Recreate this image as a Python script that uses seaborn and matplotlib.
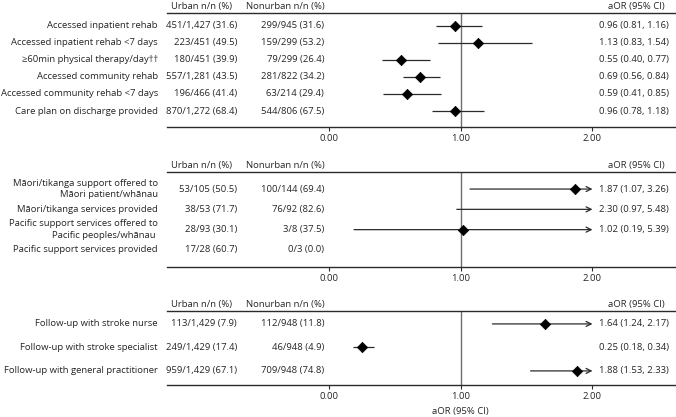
import matplotlib
matplotlib.use('Agg')
import matplotlib.pyplot as plt
import matplotlib.transforms as mtransforms
import seaborn as sns
import numpy as np
import pandas as pd

sns.set_theme(style='white')
plt.rcParams['font.family'] = ['Open Sans', 'DejaVu Sans']

FS = 6.8

# rehabilitation panel
rehab_labels = ['Accessed inpatient rehab', 'Accessed inpatient rehab <7 days',
                '≥60min physical therapy/day††', 'Accessed community rehab',
                'Accessed community rehab <7 days', 'Care plan on discharge provided']
rehab_urban = ['451/1,427 (31.6)', '223/451 (49.5)', '180/451 (39.9)',
               '557/1,281 (43.5)', '196/466 (41.4)', '870/1,272 (68.4)']
rehab_nonurban = ['299/945 (31.6)', '159/299 (53.2)', '79/299 (26.4)',
                  '281/822 (34.2)', '63/214 (29.4)', '544/806 (67.5)']
rehab_aor = [0.96, 1.13, 0.55, 0.69, 0.59, 0.96]
rehab_lo = [0.81, 0.83, 0.40, 0.56, 0.41, 0.78]
rehab_hi = [1.16, 1.54, 0.77, 0.84, 0.85, 1.18]

# cultural support panel
cult_labels = ['Māori/tikanga support offered to\nMāori patient/whānau',
               'Māori/tikanga services provided',
               'Pacific support services offered to\nPacific peoples/whānau ',
               'Pacific support services provided']
cult_urban = ['53/105 (50.5)', '38/53 (71.7)', '28/93 (30.1)', '17/28 (60.7)']
cult_nonurban = ['100/144 (69.4)', '76/92 (82.6)', '3/8 (37.5)', '0/3 (0.0)']
cult_aor = [1.87, 2.30, 1.02, np.nan]
cult_lo = [1.07, 0.97, 0.19, np.nan]
cult_hi = [3.26, 5.48, 5.39, np.nan]

# follow-up panel
fu_labels = ['Follow-up with stroke nurse', 'Follow-up with stroke specialist',
             'Follow-up with general practitioner']
fu_urban = ['113/1,429 (7.9)', '249/1,429 (17.4)', '959/1,429 (67.1)']
fu_nonurban = ['112/948 (11.8)', '46/948 (4.9)', '709/948 (74.8)']
fu_aor = [1.64, 0.25, 1.88]
fu_lo = [1.24, 0.18, 1.53]
fu_hi = [2.17, 0.34, 2.33]

XMIN, XMAX, CLIP = -1.23, 2.634, 2.0
LINE = '#2b2b2b'


def draw_panel(ax, labels, urban, nonurban, aor, lo, hi, pad_top, pad_bot):
    n = len(labels)
    df = pd.DataFrame({'row': np.arange(n), 'aor': aor, 'lo': lo, 'hi': hi})
    ax.set_xlim(XMIN, XMAX)
    ax.set_ylim(n - 1 + pad_bot, -pad_top)
    ax.axvline(1, color='#707070', lw=1, zorder=1)

    for _, r in df.iterrows():
        if np.isnan(r['lo']):
            continue
        if r['hi'] > CLIP:
            ax.annotate('', xy=(CLIP, r['row']), xytext=(r['lo'], r['row']),
                        arrowprops=dict(arrowstyle='->', lw=0.9, color=LINE,
                                        shrinkA=0, shrinkB=0, mutation_scale=9))
        else:
            ax.hlines(r['row'], r['lo'], r['hi'], color=LINE, lw=0.9, zorder=2)

    shown = df[df['aor'] <= CLIP]
    sns.scatterplot(data=shown, x='aor', y='row', marker='D', s=28, color='black',
                    edgecolor='black', linewidth=0.5, ax=ax, zorder=3, legend=False)

    for i in range(n):
        ax.text(-1.30, i, labels[i], ha='right', va='center', fontsize=FS,
                linespacing=1.35, clip_on=False)
        ax.text(-0.698, i, urban[i], ha='right', va='center', fontsize=FS)
        ax.text(-0.038, i, nonurban[i], ha='right', va='center', fontsize=FS)
        if not np.isnan(aor[i]):
            ax.text(2.58, i, f'{aor[i]:.2f} ({lo[i]:.2f}, {hi[i]:.2f})',
                    ha='right', va='center', fontsize=FS)

    trans = mtransforms.blended_transform_factory(ax.transData, ax.transAxes)
    for x, txt in [(-0.736, 'Urban n/n (%)'), (-0.03, 'Nonurban n/n (%)'),
                   (2.55, 'aOR (95% CI)')]:
        ax.annotate(txt, xy=(x, 1), xycoords=trans, xytext=(0, 1.5),
                    textcoords='offset points', ha='right', va='bottom', fontsize=FS)

    for side in ['left', 'right']:
        ax.spines[side].set_visible(False)
    for side in ['top', 'bottom']:
        ax.spines[side].set_color(LINE)
        ax.spines[side].set_linewidth(1)
    ax.set_xticks([0, 1, 2])
    ax.set_xticklabels(['0.00', '1.00', '2.00'])
    ax.set_yticks([])
    ax.tick_params(axis='x', bottom=True, direction='out', length=3, width=0.8,
                   color=LINE, pad=2, labelsize=FS)
    ax.set_xlabel('')
    ax.set_ylabel('')


W, H = 676, 417
fig = plt.figure(figsize=(W / 100, H / 100), dpi=100)


def px_axes(top, bottom):
    return fig.add_axes([167 / W, 1 - bottom / H, (W - 167) / W, (bottom - top) / H])


ax1 = px_axes(13, 127)
draw_panel(ax1, rehab_labels, rehab_urban, rehab_nonurban, rehab_aor, rehab_lo, rehab_hi, 0.76, 0.94)
ax2 = px_axes(172, 267)
draw_panel(ax2, cult_labels, cult_urban, cult_nonurban, cult_aor, cult_lo, cult_hi, 0.84, 0.84)
ax3 = px_axes(311, 385)
draw_panel(ax3, fu_labels, fu_urban, fu_nonurban, fu_aor, fu_lo, fu_hi, 0.55, 0.6)

trans3 = mtransforms.blended_transform_factory(ax3.transData, ax3.transAxes)
ax3.annotate('aOR (95% CI)', xy=(1.0, 0), xycoords=trans3, xytext=(0, -15.5),
             textcoords='offset points', ha='center', va='top', fontsize=FS)

fig.savefig('out.png', dpi=100)
